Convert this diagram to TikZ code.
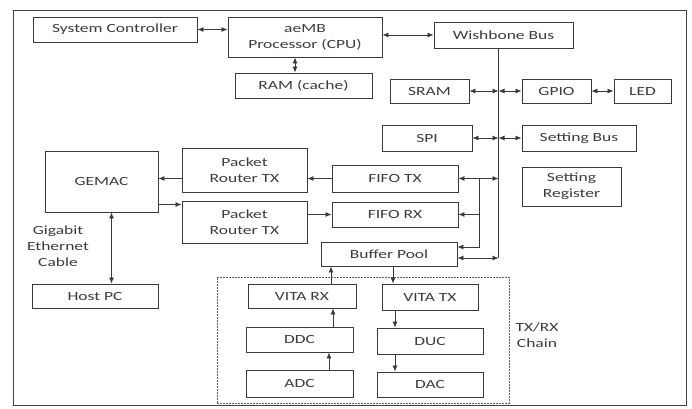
\documentclass[tikz,border=0pt]{standalone}
\usepackage{fontspec}
\newfontfamily\diagfont[FakeStretch=1.4]{Carlito}
\usepackage{tikz}
\usetikzlibrary{arrows.meta}

\definecolor{boxline}{HTML}{3A3A3A}
\definecolor{boxtext}{HTML}{3C3C3C}

\begin{document}
\begin{tikzpicture}[
x=1pt, y=-1pt,
box/.style={draw=boxline, line width=0.9pt, align=center, inner sep=0pt, text=boxtext, font=\diagfont\fontsize{12.5}{16}\selectfont},
tag/.style={align=center, text=boxtext, font=\diagfont\fontsize{12.5}{16}\selectfont},
arrow/.style={-{Latex[length=6pt,width=5pt]}, line width=0.8pt, boxline},
dblarrow/.style={{Latex[length=6pt,width=5pt]}-{Latex[length=6pt,width=5pt]}, line width=0.8pt, boxline},
wire/.style={line width=0.8pt, boxline}
]
\useasboundingbox (0,0) rectangle (692,408);
\draw[black!75, line width=1pt] (13,10) rectangle (686,405);

% top row
\node[box, minimum width=164pt, minimum height=25pt] (sysctl) at (115,29.5) {System Controller};
\node[box, minimum width=154pt, minimum height=40pt] (cpu) at (305,37) {aeMB\\Processor (CPU)};
\node[box, minimum width=137pt, minimum height=25pt] (ram) at (303.5,85.5) {RAM (cache)};
\node[box, minimum width=139pt, minimum height=26pt] (wb) at (503.5,35) {Wishbone Bus};

% peripherals on the bus
\node[box, minimum width=79pt, minimum height=24pt] (sram) at (429.5,91) {SRAM};
\node[box, minimum width=69pt, minimum height=24pt] (gpio) at (556.5,91) {GPIO};
\node[box, minimum width=57pt, minimum height=24pt] (led) at (642.5,91) {LED};
\node[box, minimum width=90pt, minimum height=26pt] (spi) at (427,138) {SPI};
\node[box, minimum width=114pt, minimum height=26pt] (setbus) at (579,138) {Setting Bus};
\node[box, minimum width=99pt, minimum height=39pt] (setreg) at (571.5,186.5) {Setting\\Register};

% packet path
\node[box, minimum width=113pt, minimum height=61pt] (gemac) at (101.5,181.5) {GEMAC};
\node[box, minimum width=125pt, minimum height=44pt] (prtx1) at (244.5,170) {Packet\\Router TX};
\node[box, minimum width=125pt, minimum height=42pt] (prtx2) at (244.5,222) {Packet\\Router TX};
\node[box, minimum width=126pt, minimum height=27pt] (fifotx) at (395,178.5) {FIFO TX};
\node[box, minimum width=126pt, minimum height=25pt] (fiforx) at (395,214.5) {FIFO RX};
\node[box, minimum width=136pt, minimum height=24pt] (buf) at (389,254) {Buffer Pool};
\node[box, minimum width=126pt, minimum height=24pt] (host) at (95,296) {Host PC};
\node[tag] (cable) at (58,246) {Gigabit\\Ethernet\\Cable};

% radio chain
\node[draw=boxline!80, dash pattern=on 2pt off 1pt, line width=0.8pt, minimum width=292pt, minimum height=126pt] (chain) at (363,340) {};
\node[tag] (chainlbl) at (537,335) {TX/RX\\Chain};
\node[box, minimum width=108pt, minimum height=24pt] (vrx) at (302,296) {VITA RX};
\node[box, minimum width=96pt, minimum height=26pt] (vtx) at (430,297) {VITA TX};
\node[box, minimum width=107pt, minimum height=25pt] (ddc) at (299.5,339.5) {DDC};
\node[box, minimum width=106pt, minimum height=26pt] (duc) at (430,341) {DUC};
\node[box, minimum width=107pt, minimum height=27pt] (adc) at (299.5,383.5) {ADC};
\node[box, minimum width=106pt, minimum height=25pt] (dac) at (430,384.5) {DAC};

% bus lines
\coordinate (bus) at ([xshift=-5pt]wb.south);
\coordinate (busend) at (bus |- 0,258);
\coordinate (tap) at ([xshift=21pt]fifotx.east);
\coordinate (bufin) at ([yshift=7pt]buf.east);
\draw[wire] (bus) -- (busend);

\draw[dblarrow] (sysctl) -- (sysctl -| cpu.west);
\draw[dblarrow] (wb.west -| cpu.east) -- (wb.west);
\draw[dblarrow] ([xshift=-10pt]cpu.south) -- ([xshift=-10pt]cpu.south |- ram.north);
\draw[dblarrow] (sram.east) -- (sram.east -| bus);
\draw[dblarrow] (gpio.west -| bus) -- (gpio.west);
\draw[dblarrow] (gpio) -- (led);
\draw[dblarrow] (spi.east) -- (spi.east -| bus);
\draw[dblarrow] (setbus.west -| bus) -- (setbus.west);
\draw[dblarrow] (fifotx.east) -- (fifotx.east -| bus);
\draw[arrow] (tap) |- (bufin);
\draw[arrow] (tap |- fiforx.east) -- (fiforx.east);
\draw[dblarrow] (buf.east |- busend) -- (busend);

\draw[arrow] (fifotx.west) -- (fifotx.west -| prtx1.east);
\draw[arrow] (prtx1.west |- fifotx.west) -- (gemac.east |- fifotx.west);
\draw[arrow] ([yshift=-23pt]gemac.east) -- ([yshift=-23pt]gemac.east -| prtx2.west);
\draw[arrow] (prtx2.east |- fiforx.west) -- (fiforx.west);
\draw[dblarrow] ([xshift=10pt]gemac.south) -- ([xshift=10pt]gemac.south |- host.north);

\draw[arrow] ([xshift=29pt]vrx.north) -- ([xshift=29pt]vrx.north |- buf.south);
\draw[arrow] ([xshift=4pt]buf.south) -- ([xshift=4pt]buf.south |- vtx.north);
\draw[arrow] ([xshift=33.5pt]ddc.north) -- ([xshift=33.5pt]ddc.north |- vrx.south);
\draw[arrow] ([xshift=29.5pt]adc.north) -- ([xshift=29.5pt]adc.north |- ddc.south);
\draw[arrow] ([xshift=-35pt]vtx.south) -- ([xshift=-35pt]vtx.south |- duc.north);
\draw[arrow] ([xshift=-35pt]duc.south) -- ([xshift=-35pt]duc.south |- dac.north);
\end{tikzpicture}
\end{document}
